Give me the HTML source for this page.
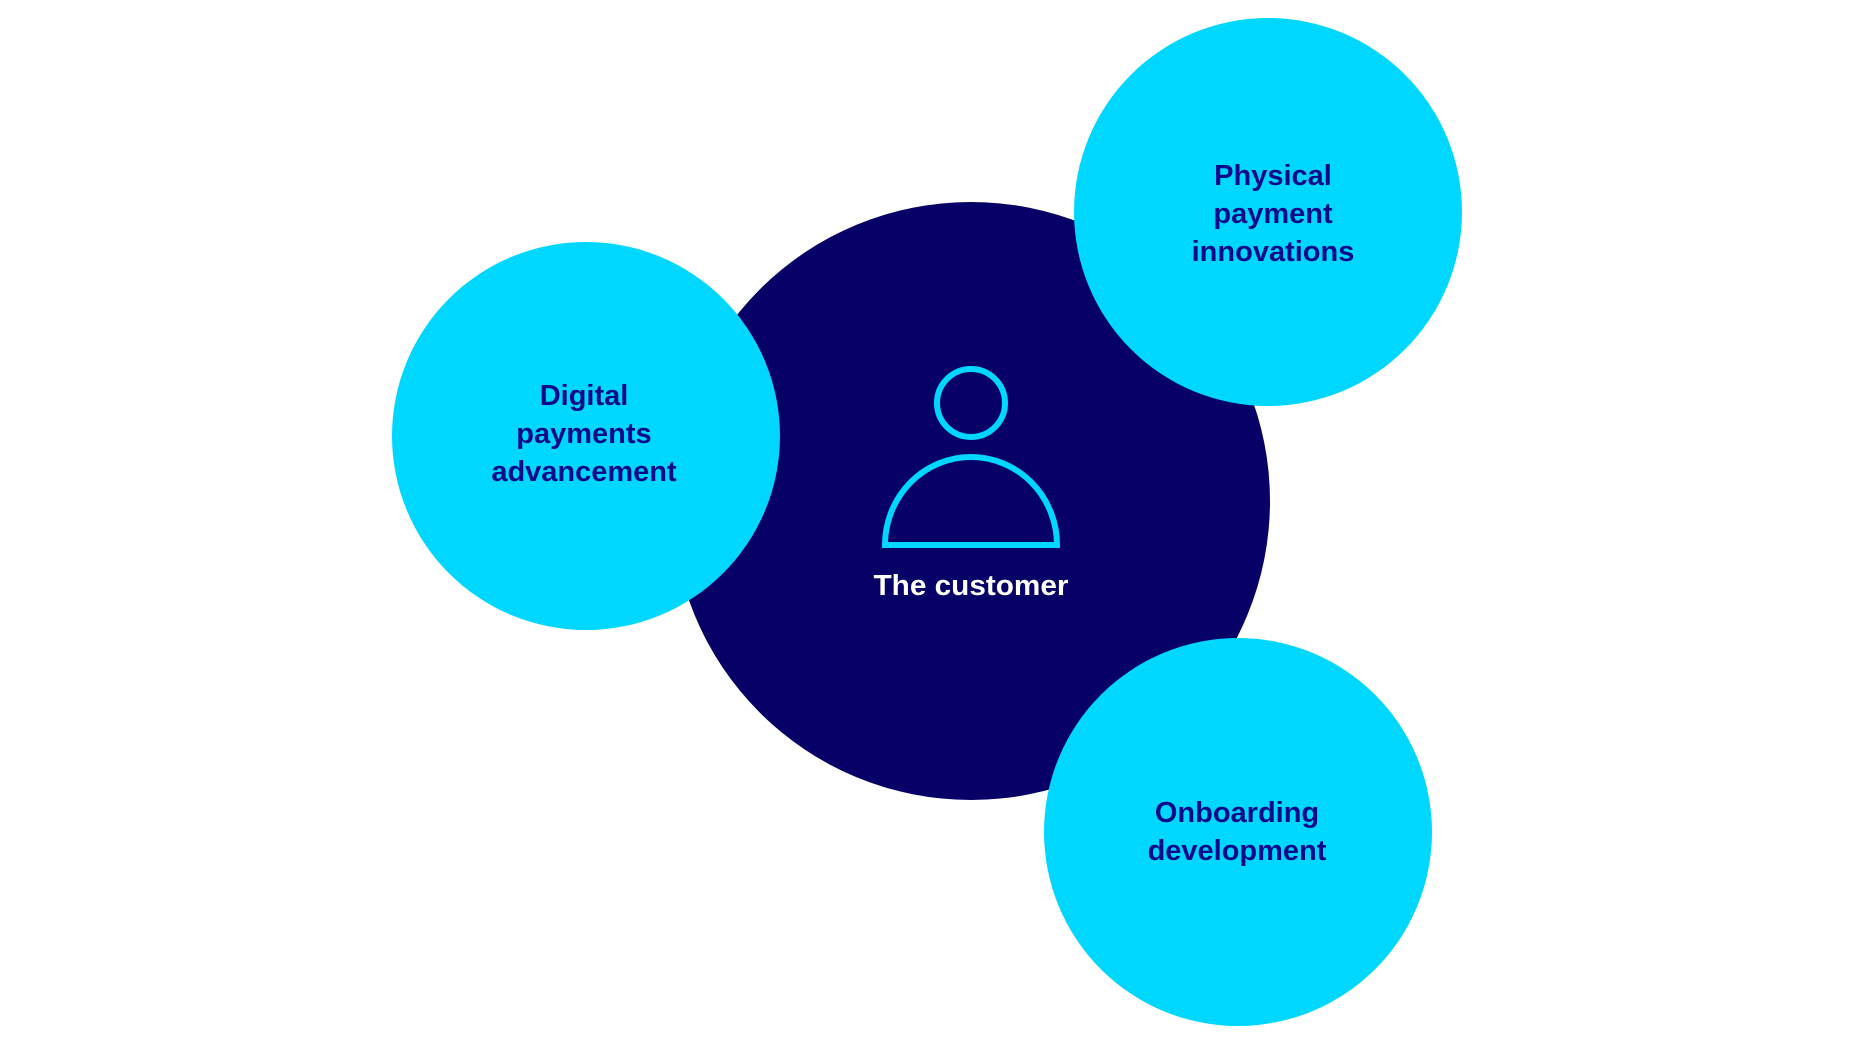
<!DOCTYPE html>
<html><head><style>
html,body{margin:0;padding:0;background:#fff;}
svg{display:block}
text{font-family:"Liberation Sans",sans-serif;font-weight:bold;text-anchor:middle}
</style></head><body>
<svg width="1855" height="1043" viewBox="0 0 1855 1043">
<circle cx="971" cy="501" r="299" fill="#070066"/>
<circle cx="586" cy="436" r="194" fill="#00d7ff"/>
<circle cx="1268" cy="212" r="194" fill="#00d7ff"/>
<circle cx="1238" cy="832" r="194" fill="#00d7ff"/>
<circle cx="971" cy="403" r="34" fill="none" stroke="#00d7ff" stroke-width="6"/>
<path d="M885 545 A86 88 0 0 1 1057 545 Z" fill="none" stroke="#00d7ff" stroke-width="6"/>
<text x="971" y="595" font-size="29" fill="#fff" textLength="195" lengthAdjust="spacingAndGlyphs">The customer</text>
<g font-size="29" fill="#0a0a8a">
<text x="584" y="405">Digital</text>
<text x="584" y="443">payments</text>
<text x="584" y="481">advancement</text>
<text x="1273" y="185">Physical</text>
<text x="1273" y="223">payment</text>
<text x="1273" y="261">innovations</text>
<text x="1237" y="822">Onboarding</text>
<text x="1237" y="860">development</text>
</g>
</svg>
</body></html>
